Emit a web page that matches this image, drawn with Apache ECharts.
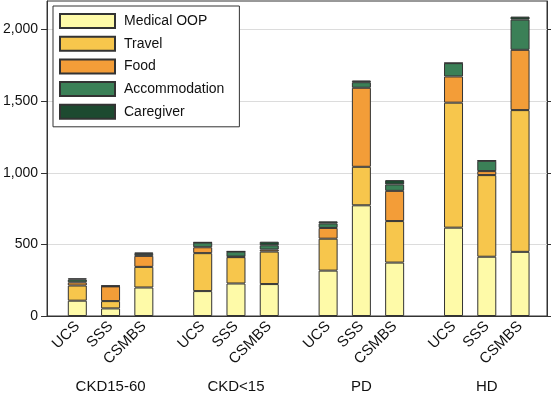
<!DOCTYPE html>
<html>
<head>
<meta charset="utf-8">
<script src="https://cdn.jsdelivr.net/npm/echarts@6/dist/echarts.min.js"></script>
<style>
  html, body { margin: 0; padding: 0; background: #fff; }
  #chart { width: 551px; height: 394px; }
</style>
</head>
<body>
<div id="chart"></div>
<script>
// groups on the x axis, and the three schemes inside each group
const groups = ['CKD15-60', 'CKD<15', 'PD', 'HD']
const schemes = ['UCS', 'SSS', 'CSMBS']

// values per bar, order: group by group, UCS / SSS / CSMBS
const medicalOOP    = [107, 53, 199,   174, 227, 223,   317, 773, 373,   617, 414, 448]
const travel        = [106, 51, 144,   265, 184, 227,   223, 269, 290,   873, 570, 990]
const food          = [ 22, 103, 77,    41,   4,  14,    75, 552, 211,   183,  28, 421]
const accommodation = [ 20,   2, 14,    33,  35,  30,    32,  39,  45,    93,  72, 211]
const caregiver     = [  8,   3, 10,     2,   2,  25,    14,  12,  30,     2,   2,  21]

const yTicks = [0, 500, 1000, 1500, 2000]

const seriesDefs = [
  { name: 'Medical OOP',   values: medicalOOP,    color: '#FEFAA8' },
  { name: 'Travel',        values: travel,        color: '#F7C64C' },
  { name: 'Food',          values: food,          color: '#F39D38' },
  { name: 'Accommodation', values: accommodation, color: '#3B8057' },
  { name: 'Caregiver',     values: caregiver,     color: '#1D4A30' }
]

// layout: bars one unit apart, groups a bit wider apart
const groupStep = 3.77
const barPos = []
const barNames = []
groups.forEach((g, gi) => {
  schemes.forEach((s, si) => {
    barPos.push(gi * groupStep + si)
    barNames.push(s)
  })
})
const groupPos = groups.map((g, gi) => gi * groupStep + 1)
const xMin = -0.91
const xMax = 14.12

const nameAt = (list, names) => (v) => {
  const i = list.findIndex(p => Math.abs(p - v) < 1e-6)
  return i < 0 ? '' : names[i]
}

const font = "'Liberation Sans', Arial, Helvetica, sans-serif"
const chart = echarts.init(document.getElementById('chart'))

chart.setOption({
  animation: false,
  textStyle: { fontFamily: font },
  grid: {
    left: 46, right: 4, top: 1, bottom: 78,
    show: true, borderColor: '#333', borderWidth: 1
  },
  legend: {
    data: seriesDefs.map(d => d.name),
    orient: 'vertical',
    left: 53, top: 6,
    itemWidth: 55, itemHeight: 14, itemGap: 6.7,
    padding: [7, 15, 7, 6],
    borderColor: '#333', borderWidth: 1,
    backgroundColor: '#fff',
    icon: 'rect',
    textStyle: { fontSize: 14, color: '#111', fontFamily: font, padding: [0, 0, 0, 4] }
  },
  xAxis: [{
    type: 'value', min: xMin, max: xMax,
    axisLine: { show: true, onZero: false, lineStyle: { color: '#333' } },
    axisTick: { show: false },
    splitLine: { show: false },
    axisLabel: {
      customValues: barPos,
      formatter: nameAt(barPos, barNames),
      rotate: 45, margin: 8,
      fontSize: 15, color: '#111', fontFamily: font
    }
  }, {
    type: 'value', min: xMin, max: xMax, position: 'bottom',
    axisLine: { show: false, onZero: false },
    axisTick: { show: false },
    splitLine: { show: false },
    axisLabel: {
      customValues: groupPos,
      formatter: nameAt(groupPos, groups),
      margin: 63,
      fontSize: 15, color: '#111', fontFamily: font
    }
  }],
  yAxis: [{
    type: 'value', min: 0, max: 2200, interval: 500, position: 'left',
    axisLine: { show: true, onZero: false, lineStyle: { color: '#333' } },
    axisTick: { show: true, length: 6, customValues: yTicks, lineStyle: { color: '#333' } },
    axisLabel: {
      customValues: yTicks, margin: 9,
      formatter: v => v.toLocaleString('en-US'),
      fontSize: 14, color: '#111', fontFamily: font
    },
    splitLine: { show: true, lineStyle: { color: '#dcdcdc', width: 1 } }
  }, {
    type: 'value', min: 0, max: 2200, interval: 500, position: 'right',
    axisLine: { show: true, onZero: false, lineStyle: { color: '#333' } },
    axisTick: { show: true, length: 4, customValues: yTicks, lineStyle: { color: '#333' } },
    axisLabel: { show: false },
    splitLine: { show: false }
  }],
  series: seriesDefs.map(d => ({
    name: d.name,
    type: 'bar',
    stack: 'total',
    xAxisIndex: 0,
    yAxisIndex: 0,
    barWidth: 19,
    encode: { x: 1, y: 0 },
    itemStyle: { color: d.color, borderColor: '#333', borderWidth: 1 },
    data: d.values.map((v, i) => [v, barPos[i]])
  }))
})
</script>
</body>
</html>
